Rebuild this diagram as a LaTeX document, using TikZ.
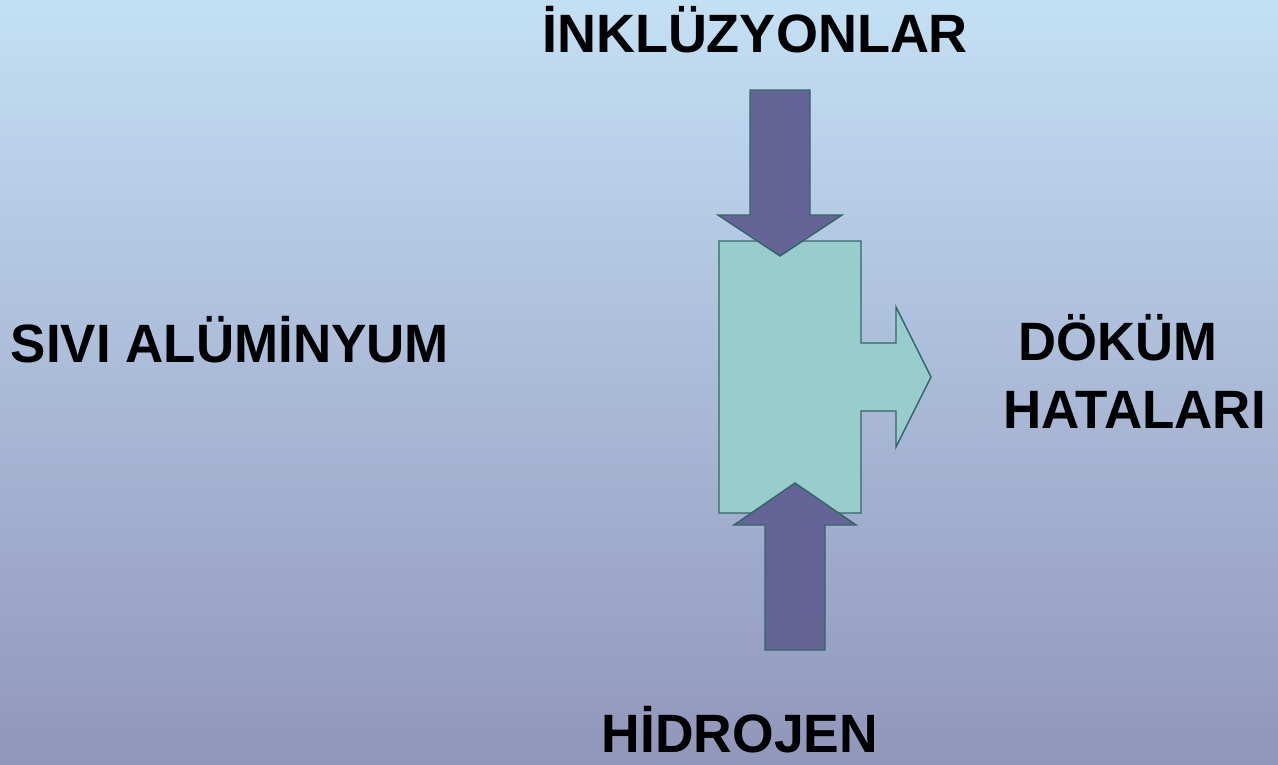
\documentclass[tikz,border=0pt]{standalone}
\usepackage{fontspec}
\setmainfont{Liberation Sans}
\definecolor{bgtop}{RGB}{195,224,244}
\definecolor{bgbot}{RGB}{145,150,187}
\definecolor{boxfill}{RGB}{153,204,204}
\definecolor{arrowfill}{RGB}{100,100,150}
\definecolor{edge}{RGB}{51,102,102}
\tikzset{
  label/.style={inner sep=0pt, font=\fontsize{40.5pt}{44pt}\selectfont\bfseries, text=black},
  boxshape/.style={fill=boxfill, draw=edge, line width=1.1pt, line join=miter},
  arrowshape/.style={fill=arrowfill, draw=edge, line width=1.1pt, line join=miter}
}
\newcommand{\sx}[2]{\scalebox{#1}[1]{#2}}
\begin{document}
\begin{tikzpicture}[x=0.75pt,y=-0.75pt]
\shade[top color=bgtop, bottom color=bgbot] (0,0) rectangle (1278,764);
\useasboundingbox (0,0) rectangle (1278,764);
% central box with right arrow
\draw[boxshape] (719,241) -- (861,241) -- (861,343) -- (896,343) -- (896,307) -- (931,377)
  -- (896,447) -- (896,411) -- (861,411) -- (861,513) -- (719,513) -- cycle;
% top arrow (down)
\draw[arrowshape] (750,90) -- (810,90) -- (810,215) -- (842,215) -- (780,256) -- (718,215) -- (750,215) -- cycle;
% bottom arrow (up)
\draw[arrowshape] (765,650) -- (825,650) -- (825,525) -- (856,525) -- (795,483) -- (734,525) -- (765,525) -- cycle;
% labels
\node[label, anchor=base] (inkl) at (755,52) {\sx{1.0}{İNKLÜZYONLAR}};
\node[label, anchor=base] (sivi) at (230,362) {\sx{0.98}{SIVI ALÜMİNYUM}};
\node[label, anchor=base west] (dokum) at (1018,360) {\sx{0.975}{DÖKÜM}};
\node[label, anchor=base west] (hata) at (1003,428) {\sx{0.98}{HATALARI}};
\node[label, anchor=base] (hidro) at (740,752) {\sx{0.99}{HİDROJEN}};
\end{tikzpicture}
\end{document}
